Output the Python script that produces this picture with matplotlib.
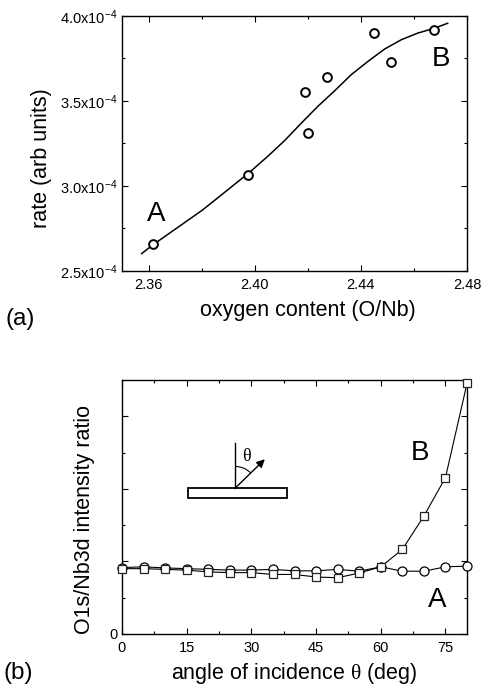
import numpy as np
import matplotlib
matplotlib.use("Agg")
import matplotlib.pyplot as plt
from matplotlib.ticker import MultipleLocator, FixedLocator, FuncFormatter
from matplotlib.patches import Rectangle, Arc

plt.rcParams['font.family'] = ['Liberation Sans', 'DejaVu Sans']
plt.rcParams['mathtext.fontset'] = 'custom'
plt.rcParams['mathtext.rm'] = 'Liberation Serif'
plt.rcParams['mathtext.default'] = 'regular'

# (a) rate vs oxygen content, measured points
oxygen = [2.3616, 2.3976, 2.4189, 2.4201, 2.4273, 2.4448, 2.4514, 2.4677]
rate = [2.657, 3.066, 3.551, 3.314, 3.639, 3.899, 3.729, 3.918]
# (a) fitted curve
fit_oxygen = [2.3574, 2.3614, 2.3676, 2.3739, 2.3801, 2.3864, 2.3926, 2.3979, 2.4051,
              2.4114, 2.4177, 2.4239, 2.4302, 2.4364, 2.4427, 2.4489, 2.4552, 2.4614,
              2.4677, 2.4727]
fit_rate = [2.602, 2.651, 2.719, 2.788, 2.856, 2.934, 3.012, 3.078, 3.177,
            3.269, 3.372, 3.470, 3.561, 3.655, 3.733, 3.805, 3.860, 3.899,
            3.928, 3.957]

# (b) O1s/Nb3d intensity ratio vs angle
angle = [0, 5, 10, 15, 20, 25, 30, 35, 40, 45, 50, 55, 60, 65, 70, 75, 80]
ratio_A = [1.83, 1.85, 1.82, 1.80, 1.78, 1.76, 1.76, 1.78, 1.74, 1.74, 1.78, 1.73,
           1.85, 1.73, 1.73, 1.85, 1.87]
ratio_B = [1.80, 1.80, 1.78, 1.76, 1.71, 1.69, 1.69, 1.64, 1.64, 1.57, 1.55, 1.68,
           1.85, 2.33, 3.25, 4.31, 6.91]

fig = plt.figure(figsize=(4.86, 6.85), dpi=100)
ax1 = fig.add_axes([0.251, 0.6044, 0.710, 0.3723])
ax2 = fig.add_axes([0.251, 0.0745, 0.710, 0.3708])

for ax in (ax1, ax2):
    ax.tick_params(which='both', direction='in', top=True, right=True, width=0.8,
                   labelsize=10.5, colors='black')
    ax.tick_params(which='major', length=4)
    ax.tick_params(which='minor', length=2.5)
    for s in ax.spines.values():
        s.set_linewidth(1.0)

# ---- panel (a)
ax1.plot(np.array(fit_oxygen), np.array(fit_rate) * 1e-4, color='black', lw=1.1, zorder=2)
ax1.plot(oxygen, np.array(rate) * 1e-4, 'o', ms=6.3, mfc='white', mec='black', mew=1.4, zorder=3)
ax1.set_xlim(2.35, 2.48)
ax1.set_ylim(2.5e-4, 4.0e-4)
ax1.xaxis.set_major_locator(FixedLocator([2.36, 2.40, 2.44, 2.48]))
ax1.xaxis.set_minor_locator(FixedLocator([2.38, 2.42, 2.46]))
ax1.xaxis.set_major_formatter(FuncFormatter(lambda v, p: "%.2f" % v))
ax1.yaxis.set_major_locator(MultipleLocator(0.5e-4))
ax1.yaxis.set_minor_locator(MultipleLocator(0.25e-4))
ax1.yaxis.set_major_formatter(FuncFormatter(lambda v, p: r"%.1fx10$^{-4}$" % (v * 1e4)))
ax1.tick_params(axis='y', pad=3)
ax1.tick_params(axis='x', pad=5)
ax1.set_xlabel("oxygen content (O/Nb)", fontsize=15.5)
ax1.set_ylabel("rate (arb units)", fontsize=15.5)
ax1.xaxis.set_label_coords(0.539, -0.113)
ax1.yaxis.set_label_coords(-0.203, 0.441)
ax1.text(2.363, 2.836e-4, "A", fontsize=20, ha='center', va='center')
ax1.text(2.4703, 3.749e-4, "B", fontsize=20, ha='center', va='center')

# ---- panel (b)
ax2.plot(angle, ratio_A, '-o', color='black', lw=0.8, ms=6.5, mfc='white', mec='black',
         mew=0.9, zorder=3, clip_on=False)
ax2.plot(angle, ratio_B, '-s', color='black', lw=0.8, ms=5.8, mfc='white', mec='#222222',
         mew=0.9, zorder=4, clip_on=False)
ax2.set_xlim(0, 80)
ax2.set_ylim(0, 7)
ax2.xaxis.set_major_locator(MultipleLocator(15))
ax2.xaxis.set_minor_locator(MultipleLocator(7.5))
ax2.yaxis.set_major_locator(FixedLocator([0, 2, 4, 6]))
ax2.yaxis.set_minor_locator(FixedLocator([1, 3, 5]))
ax2.yaxis.set_major_formatter(FuncFormatter(lambda v, p: "0" if v == 0 else ""))
ax2.tick_params(axis='x', pad=5)
ax2.tick_params(axis='y', pad=3)
ax2.set_xlabel(r"angle of incidence $\mathrm{\theta}$ (deg)", fontsize=15.5)
ax2.set_ylabel("O1s/Nb3d intensity ratio", fontsize=15.5)
ax2.xaxis.set_label_coords(0.5, -0.107)
ax2.yaxis.set_label_coords(-0.078, 0.449)
ax2.text(69.2, 5.0, "B", fontsize=20, ha='center', va='center')
ax2.text(73.0, 0.93, "A", fontsize=20, ha='center', va='center')

# inset sketch of the geometry
tr = ax2.transAxes
ax2.add_patch(Rectangle((0.192, 0.534), 0.285, 0.040, transform=tr, fill=False,
                        ec='black', lw=1.3))
ax2.plot([0.328, 0.328], [0.574, 0.751], transform=tr, color='black', lw=1.0)
ax2.annotate("", xy=(0.414, 0.688), xytext=(0.328, 0.574), xycoords=tr, textcoords=tr,
             arrowprops=dict(arrowstyle='-|>', color='black', lw=1.0, mutation_scale=12,
                             shrinkA=0, shrinkB=0))
ax2.add_patch(Arc((0.328, 0.574), 0.126, 0.171, theta1=53, theta2=90, transform=tr,
                  color='black', lw=0.8))
ax2.text(0.362, 0.70, r"$\mathrm{\theta}$", transform=tr, fontsize=13, ha='center', va='center')

fig.text(0.011, 0.535, "(a)", fontsize=17.5, ha='left', va='center')
fig.text(0.008, 0.017, "(b)", fontsize=17.5, ha='left', va='center')

fig.savefig("out.png", dpi=100)
